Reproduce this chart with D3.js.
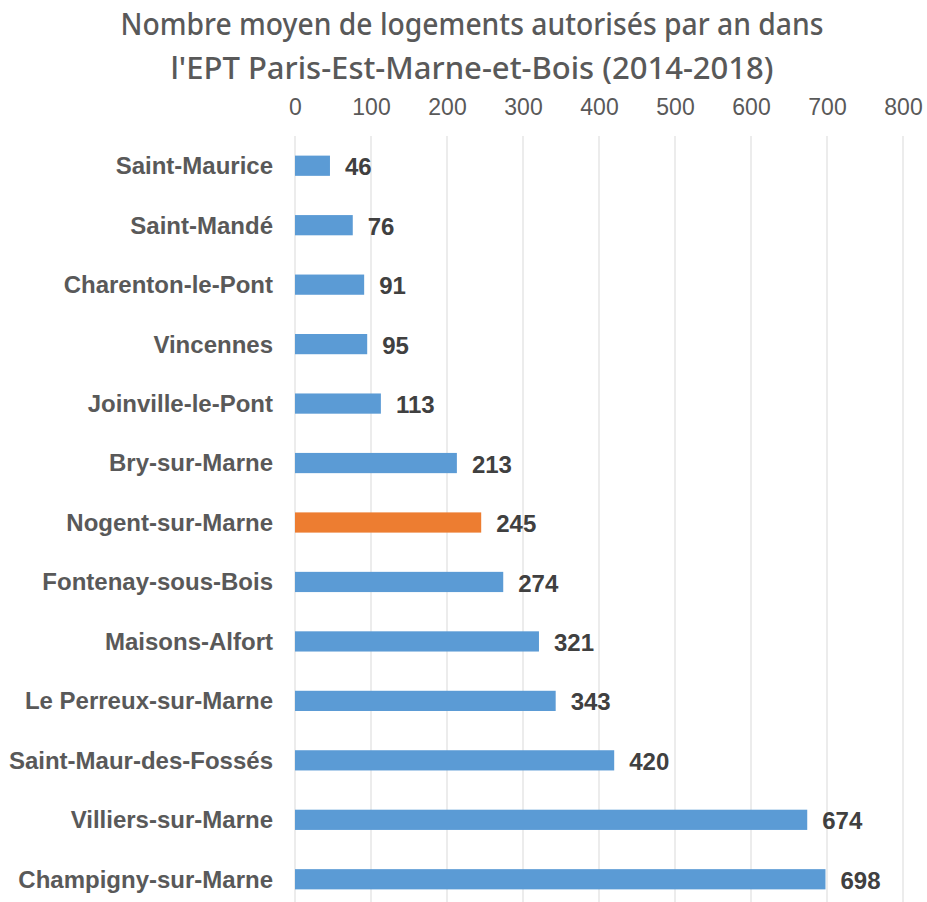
<!DOCTYPE html>
<html>
<head>
<meta charset="utf-8">
<script src="https://cdn.jsdelivr.net/npm/d3@7"></script>
<style>
  body { margin: 0; background: #fff; }
  svg { display: block; }
</style>
</head>
<body>
<div id="chart"></div>
<script>
'use strict';

const communes = ['Saint-Maurice', 'Saint-Mandé', 'Charenton-le-Pont', 'Vincennes',
    'Joinville-le-Pont', 'Bry-sur-Marne', 'Nogent-sur-Marne', 'Fontenay-sous-Bois',
    'Maisons-Alfort', 'Le Perreux-sur-Marne', 'Saint-Maur-des-Fossés',
    'Villiers-sur-Marne', 'Champigny-sur-Marne'];
const logements = [46, 76, 91, 95, 113, 213, 245, 274, 321, 343, 420, 674, 698];
const highlighted = ['Nogent-sur-Marne'];
const ticks = [0, 100, 200, 300, 400, 500, 600, 700, 800];
const titleLines = ['Nombre moyen de logements autorisés par an dans',
    "l'EPT Paris-Est-Marne-et-Bois (2014-2018)"];

const width = 927, height = 902;
const svg = d3.select('#chart')
    .append('svg')
    .attr('width', width)
    .attr('height', height);

const x = d3.scaleLinear().domain([0, 800]).range([295, 903]);
const y = d3.scaleBand().domain(communes).range([136, 909]).paddingInner(0.66).paddingOuter(0.33);

// title
svg.append('g')
    .selectAll('text')
    .data(titleLines)
    .join('text')
    .attr('x', 472)
    .attr('y', (d, i) => 35 + i * 44)
    .attr('text-anchor', 'middle')
    .attr('font-family', '"Noto Sans", sans-serif')
    .attr('font-weight', 500)
    .attr('font-size', 31)
    .attr('fill', '#595959')
    .attr('textLength', (d, i) => i ? 603 : 703)
    .attr('lengthAdjust', 'spacingAndGlyphs')
    .text(d => d);

// gridlines
svg.append('g')
    .selectAll('line')
    .data(ticks)
    .join('line')
    .attr('x1', d => x(d)).attr('x2', d => x(d))
    .attr('y1', 136).attr('y2', 902)
    .attr('stroke', '#d9d9d9')
    .attr('stroke-width', 1);

// top axis
const axis = svg.append('g')
    .attr('transform', 'translate(0,115)')
    .call(d3.axisTop(x).tickValues(ticks).tickSize(0).tickPadding(0));
axis.select('.domain').remove();
axis.selectAll('text')
    .attr('font-family', '"Liberation Sans", Arial, sans-serif')
    .attr('font-size', 23)
    .attr('fill', '#595959');

// bars
svg.append('g')
    .selectAll('rect')
    .data(communes)
    .join('rect')
    .attr('x', x(0))
    .attr('y', d => y(d))
    .attr('width', (d, i) => x(logements[i]) - x(0))
    .attr('height', y.bandwidth())
    .attr('fill', d => highlighted.includes(d) ? '#ED7D31' : '#5B9BD5');

// category labels
svg.append('g')
    .selectAll('text')
    .data(communes)
    .join('text')
    .attr('x', 273)
    .attr('y', d => y(d) + y.bandwidth() / 2)
    .attr('dy', '0.35em')
    .attr('text-anchor', 'end')
    .attr('font-family', '"Liberation Sans", Arial, sans-serif')
    .attr('font-weight', 'bold')
    .attr('font-size', 24)
    .attr('fill', '#595959')
    .text(d => d);

// value labels
svg.append('g')
    .selectAll('text')
    .data(communes)
    .join('text')
    .attr('x', (d, i) => x(logements[i]) + 15)
    .attr('y', d => y(d) + y.bandwidth() / 2)
    .attr('dy', '0.4em')
    .attr('font-family', '"Liberation Sans", Arial, sans-serif')
    .attr('font-weight', 'bold')
    .attr('font-size', 24)
    .attr('fill', '#404040')
    .text((d, i) => logements[i]);
</script>
</body>
</html>
